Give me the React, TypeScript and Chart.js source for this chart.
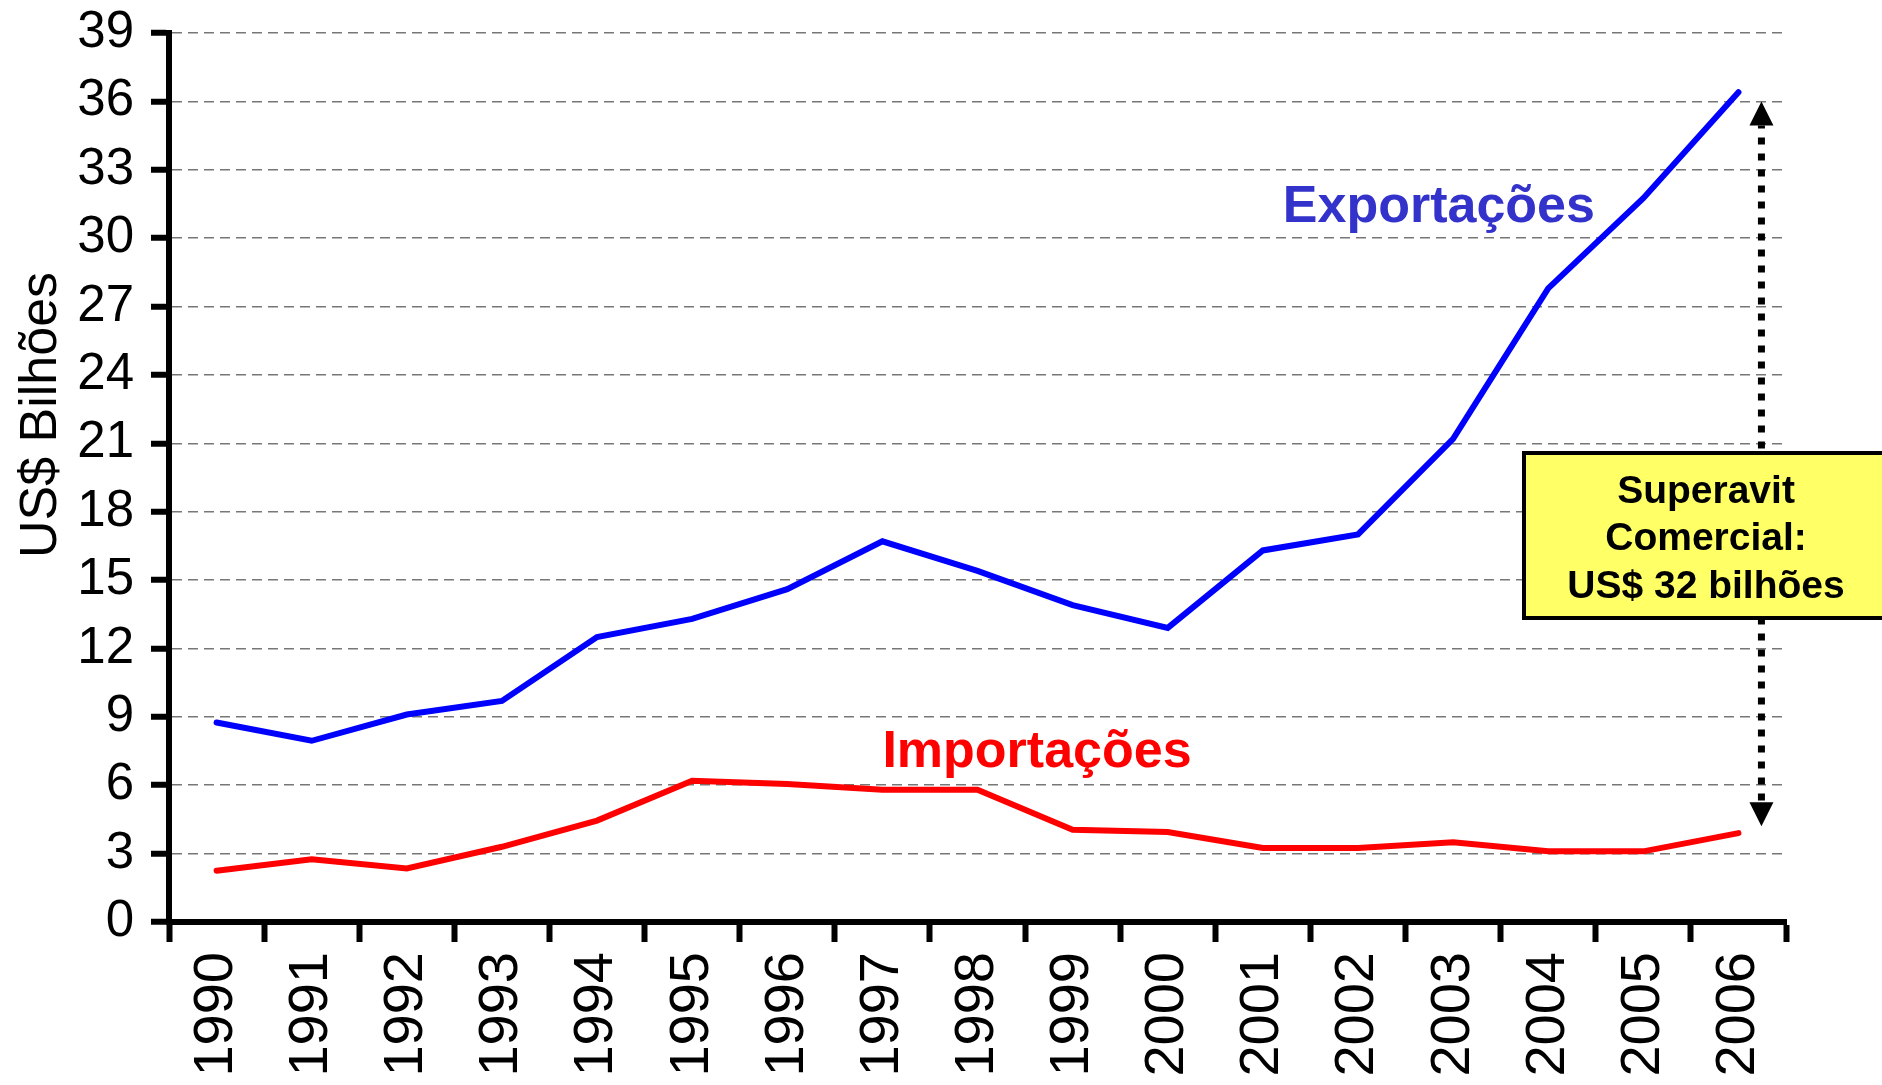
import React, { useEffect, useRef } from 'react';
import { Chart, registerables } from 'chart.js';

Chart.register(...registerables);

const years = ['1990', '1991', '1992', '1993', '1994', '1995', '1996', '1997', '1998', '1999', '2000', '2001', '2002', '2003', '2004', '2005', '2006'];
const exportacoes = [8.75, 7.95, 9.1, 9.7, 12.5, 13.3, 14.6, 16.7, 15.4, 13.9, 12.9, 16.3, 17.0, 21.2, 27.8, 31.75, 36.4];
const importacoes = [2.25, 2.75, 2.35, 3.3, 4.45, 6.2, 6.05, 5.8, 5.8, 4.05, 3.95, 3.25, 3.25, 3.5, 3.1, 3.1, 3.9];
const seriesLabels = ['Exportações', 'Importações'];
const yTitle = 'US$ Bilhões';
const boxLines = ['Superavit', 'Comercial:', 'US$ 32 bilhões'];
const yMin = 0;
const yMax = 39;
const yStep = 3;
const arrowTopValue = 36;
const arrowBottomValue = 4.2;

const FONT = '"Liberation Sans", Arial, Helvetica, sans-serif';

const annotationPlugin = {
  id: 'annotations',
  afterDraw(chart: any) {
    const { ctx } = chart;
    const x = chart.scales.x;
    const y = chart.scales.y;
    ctx.save();

    // Y-axis title
    ctx.save();
    ctx.translate(56, 415);
    ctx.rotate(-Math.PI / 2);
    ctx.font = `52px ${FONT}`;
    ctx.fillStyle = '#000';
    ctx.textAlign = 'center';
    ctx.textBaseline = 'alphabetic';
    ctx.fillText(yTitle, 0, 0);
    ctx.restore();

    // Series labels
    ctx.font = `bold 52px ${FONT}`;
    ctx.textAlign = 'left';
    ctx.textBaseline = 'alphabetic';
    ctx.fillStyle = '#3333CC';
    ctx.fillText(seriesLabels[0], x.getPixelForValue(11.21), y.getPixelForValue(30.7));
    ctx.fillStyle = '#FF0000';
    ctx.fillText(seriesLabels[1], x.getPixelForValue(7.0), y.getPixelForValue(6.8));

    // Double arrow
    const ax = x.getPixelForValue(16) + 23;
    const top = y.getPixelForValue(arrowTopValue);
    const bot = y.getPixelForValue(arrowBottomValue);
    const headH = 24;
    const headW = 24;
    ctx.fillStyle = '#000';
    ctx.beginPath();
    ctx.moveTo(ax, top);
    ctx.lineTo(ax - headW / 2, top + headH);
    ctx.lineTo(ax + headW / 2, top + headH);
    ctx.closePath();
    ctx.fill();
    ctx.beginPath();
    ctx.moveTo(ax, bot);
    ctx.lineTo(ax - headW / 2, bot - headH);
    ctx.lineTo(ax + headW / 2, bot - headH);
    ctx.closePath();
    ctx.fill();
    ctx.strokeStyle = '#000';
    ctx.lineWidth = 7;
    ctx.lineCap = 'butt';
    ctx.setLineDash([7, 9]);
    ctx.lineDashOffset = -12;
    ctx.beginPath();
    ctx.moveTo(ax, top + headH);
    ctx.lineTo(ax, bot - headH);
    ctx.stroke();
    ctx.setLineDash([]);

    // Annotation box
    const bx = 1524;
    const by = 453;
    const bw = 1890 - bx;
    const bh = 165;
    ctx.fillStyle = '#FFFF66';
    ctx.fillRect(bx, by, bw, bh);
    ctx.lineWidth = 4;
    ctx.strokeStyle = '#000';
    ctx.strokeRect(bx, by, bw, bh);
    ctx.fillStyle = '#000';
    ctx.font = `bold 39px ${FONT}`;
    ctx.textAlign = 'center';
    const baselines = [503, 550, 598];
    boxLines.forEach((t, i) => ctx.fillText(t, 1706, baselines[i]));

    ctx.restore();
  },
};

export default function App() {
  const canvasRef = useRef<HTMLCanvasElement | null>(null);

  useEffect(() => {
    if (!canvasRef.current) return;
    Chart.defaults.font.family = FONT;
    const chart = new Chart(canvasRef.current, {
      type: 'line',
      data: {
        labels: years,
        datasets: [
          {
            label: seriesLabels[0],
            data: exportacoes,
            borderColor: '#0000FF',
            backgroundColor: '#0000FF',
            borderWidth: 6,
            pointRadius: 0,
            tension: 0,
            borderCapStyle: 'round',
          },
          {
            label: seriesLabels[1],
            data: importacoes,
            borderColor: '#FF0000',
            backgroundColor: '#FF0000',
            borderWidth: 6,
            pointRadius: 0,
            tension: 0,
            borderCapStyle: 'round',
          },
        ],
      },
      options: {
        animation: false,
        responsive: false,
        devicePixelRatio: 1,
        layout: { padding: { top: 33, right: 96, bottom: 0, left: 0 } },
        plugins: {
          legend: { display: false },
          tooltip: { enabled: false },
        },
        scales: {
          x: {
            type: 'category',
            offset: true,
            grid: {
              display: true,
              offset: true,
              drawOnChartArea: false,
              drawTicks: true,
              tickLength: 20,
              tickColor: '#000',
              tickWidth: 6,
            },
            border: { display: true, color: '#000', width: 6 },
            ticks: {
              color: '#000',
              font: { size: 56, family: FONT },
              minRotation: 90,
              maxRotation: 90,
              autoSkip: false,
              padding: 10,
            },
            afterFit: (s: any) => {
              s.height = 163;
              s.paddingLeft = 0;
              s.paddingRight = 0;
            },
          },
          y: {
            min: yMin,
            max: yMax,
            grid: {
              color: '#777777',
              lineWidth: 1.5,
              drawTicks: true,
              tickLength: 18,
              tickColor: '#000',
              tickWidth: 6,
              tickBorderDash: [],
            },
            border: { display: true, color: '#000', width: 6, dash: [10, 6] },
            ticks: {
              stepSize: yStep,
              color: '#000',
              font: { size: 51, family: FONT },
              padding: 17,
            },
            afterFit: (s: any) => {
              s.width = 169;
              s.paddingTop = 0;
              s.paddingBottom = 0;
            },
          },
        },
      },
      plugins: [annotationPlugin],
    } as any);
    return () => chart.destroy();
  }, []);

  return (
    <div style={{ position: 'absolute', left: 0, top: 0, width: 1882, height: 1085, background: '#fff' }}>
      <canvas ref={canvasRef} width={1882} height={1085} style={{ display: 'block' }} />
    </div>
  );
}
